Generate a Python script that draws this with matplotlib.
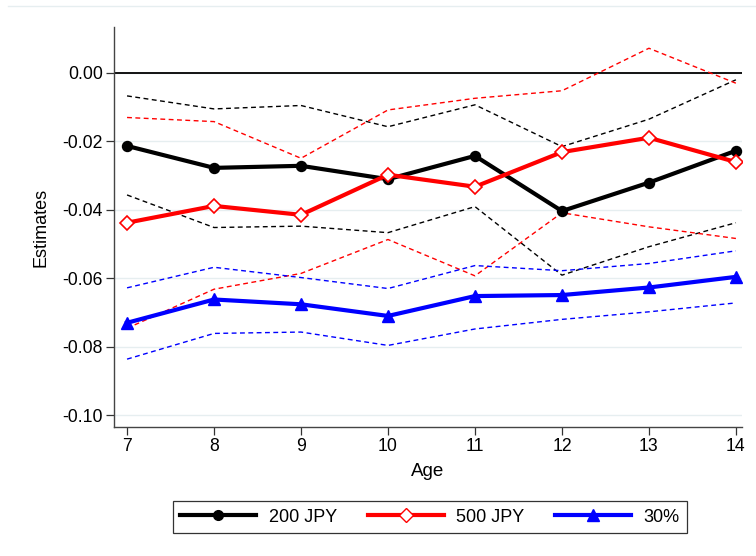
import matplotlib
matplotlib.use("Agg")
import matplotlib.pyplot as plt
from matplotlib.lines import Line2D

plt.rcParams["font.family"] = ["Liberation Sans", "DejaVu Sans"]

age = [7, 8, 9, 10, 11, 12, 13, 14]

# point estimates
est_200 = [-0.0214, -0.0278, -0.0272, -0.0311, -0.0243, -0.0404, -0.0321, -0.0228]
est_500 = [-0.0438, -0.0389, -0.0415, -0.0298, -0.0333, -0.0232, -0.0190, -0.0261]
est_30 = [-0.0730, -0.0662, -0.0676, -0.0710, -0.0652, -0.0649, -0.0627, -0.0596]

# confidence bands
hi_200 = [-0.0068, -0.0106, -0.0096, -0.0158, -0.0094, -0.0216, -0.0136, -0.0021]
lo_200 = [-0.0357, -0.0452, -0.0448, -0.0467, -0.0391, -0.0591, -0.0508, -0.0438]
hi_500 = [-0.0131, -0.0143, -0.0250, -0.0109, -0.0075, -0.0053, 0.0071, -0.0031]
lo_500 = [-0.0746, -0.0632, -0.0586, -0.0487, -0.0593, -0.0409, -0.0450, -0.0484]
hi_30 = [-0.0628, -0.0568, -0.0598, -0.0630, -0.0563, -0.0578, -0.0557, -0.0520]
lo_30 = [-0.0836, -0.0761, -0.0757, -0.0796, -0.0748, -0.0720, -0.0698, -0.0672]

yticks = [0.00, -0.02, -0.04, -0.06, -0.08, -0.10]
labels = ["200 JPY", "500 JPY", "30%"]

fig = plt.figure(figsize=(7.56, 5.56), dpi=100)
ax = fig.add_axes([114 / 756, 1 - 427 / 556, 628 / 756, 400 / 556])

for y in yticks:
    ax.axhline(y, color="#e6eef0", lw=1.0, zorder=0)
ax.axhline(0, color="black", lw=1.3, zorder=1)

dash = dict(lw=1.0, ls=(0, (3.5, 2.5)), zorder=2)
ax.plot(age, hi_200, color="black", **dash)
ax.plot(age, lo_200, color="black", **dash)
ax.plot(age, hi_500, color="red", **dash)
ax.plot(age, lo_500, color="red", **dash)
ax.plot(age, hi_30, color="blue", **dash)
ax.plot(age, lo_30, color="blue", **dash)

ax.plot(age, est_200, color="black", lw=3.0, marker="o", ms=7.2, zorder=4)
ax.plot(age, est_500, color="red", lw=3.0, marker="D", ms=7, mfc="white",
        mec="red", mew=1.2, zorder=4)
ax.plot(age, est_30, color="blue", lw=3.0, marker="^", ms=8, zorder=4)

ax.set_xlim(6.85, 14.07)
ax.set_ylim(-0.1034, 0.0133)
ax.set_xticks(age)
ax.set_yticks(yticks)
ax.set_yticklabels([f"{v:.2f}" for v in yticks])
ax.tick_params(labelsize=12.7, length=6, width=0.9, pad=2, color="#333333")
ax.set_xlabel("Age", fontsize=13.5, labelpad=6)
ax.set_ylabel("Estimates", fontsize=13, labelpad=9)
for side in ("top", "right"):
    ax.spines[side].set_visible(False)
for side in ("left", "bottom"):
    ax.spines[side].set_color("#444444")
    ax.spines[side].set_linewidth(1.0)

handles = [
    Line2D([], [], color="black", lw=3.0, marker="o", ms=7),
    Line2D([], [], color="red", lw=3.0, marker="D", ms=7, mfc="white", mec="red"),
    Line2D([], [], color="blue", lw=3.0, marker="^", ms=8),
]
leg = fig.legend(handles, labels, loc="center", bbox_to_anchor=(430 / 756, 1 - 517 / 556),
                 ncol=3, fontsize=13, frameon=True, fancybox=False,
                 handlelength=4.2, columnspacing=1.7, handletextpad=0.7,
                 borderpad=0.4)
leg.get_frame().set_edgecolor("black")
leg.get_frame().set_linewidth(0.9)

fig.add_artist(Line2D([8 / 756, 1.0], [1 - 6 / 556, 1 - 6 / 556],
                      color="#e6eef0", lw=1.0, transform=fig.transFigure))

fig.savefig("out.png", dpi=100)
